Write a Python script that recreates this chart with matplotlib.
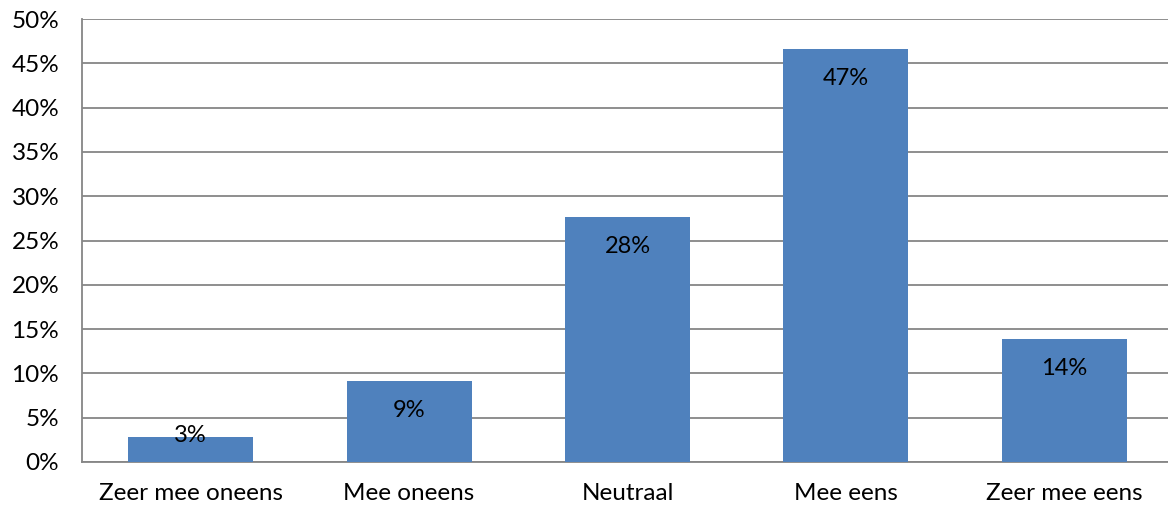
import matplotlib.pyplot as plt
from matplotlib.ticker import PercentFormatter

# data
categories = ['Zeer mee oneens', 'Mee oneens', 'Neutraal', 'Mee eens', 'Zeer mee eens']
values = [2.8, 9.1, 27.6, 46.6, 13.9]
labels = ['3%', '9%', '28%', '47%', '14%']

plt.rcParams['font.family'] = ['Lato', 'DejaVu Sans']

fig = plt.figure(figsize=(11.68, 5.09), dpi=100)
ax = fig.add_axes([81.5 / 1168, 47 / 509, 1092 / 1168, 443 / 509])

x = range(len(categories))
bars = ax.bar(x, values, width=0.572, color='#4F81BD', zorder=3)

# value labels inside the top of each bar (small bars: label sits on the top edge)
for b, lab in zip(bars, labels):
    h = b.get_height()
    off = -21 if h > 5 else 1
    ax.annotate(lab, (b.get_x() + b.get_width() / 2, h),
                xytext=(0, off), textcoords='offset points',
                ha='center', va='center', fontsize=17, color='black', zorder=4)

ax.set_xlim(-0.5, len(categories) - 0.5)
ax.set_ylim(0, 50)
ax.set_yticks(range(0, 51, 5))
ax.yaxis.set_major_formatter(PercentFormatter(decimals=0))
ax.set_xticks(list(x))
ax.set_xticklabels(categories)

ax.grid(axis='y', color='#868686', linewidth=1.3, zorder=0)
for side in ['top', 'right']:
    ax.spines[side].set_visible(False)
ax.spines['left'].set_color('#868686')
ax.spines['bottom'].set_color('#868686')
ax.spines['left'].set_linewidth(1.3)
ax.spines['bottom'].set_linewidth(1.3)
ax.tick_params(axis='both', length=0, labelsize=17.5)
ax.tick_params(axis='x', pad=15)
ax.tick_params(axis='y', pad=16)

fig.savefig('out.png', dpi=100)
